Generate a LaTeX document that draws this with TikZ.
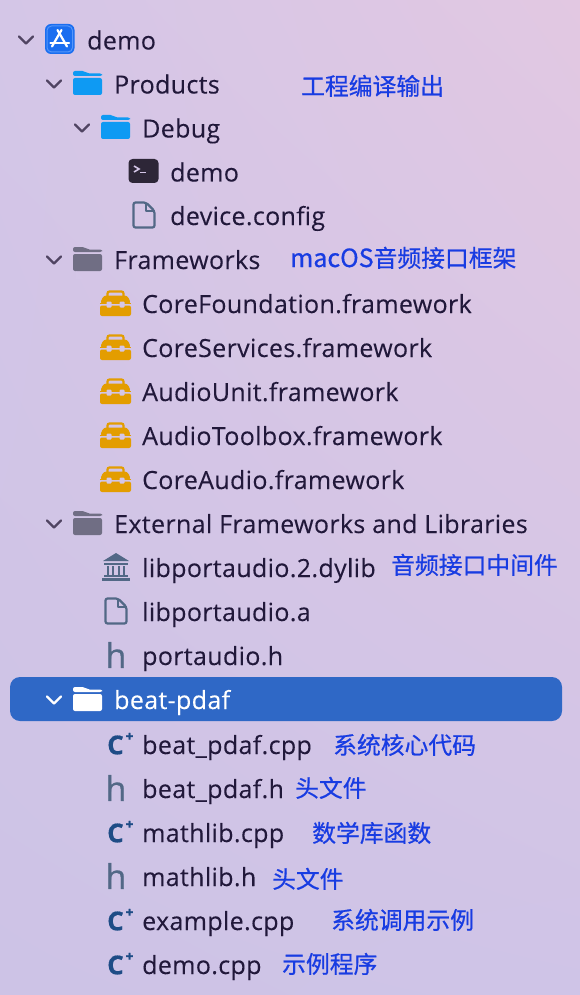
\documentclass[tikz,border=0pt]{standalone}
\usepackage{fontspec}
\usetikzlibrary{shadings}
\setmainfont[LetterSpace=1.4,FakeBold=0.12]{Open Sans}
\newfontfamily\iconfont[FakeBold=0.6]{Open Sans}
\newfontfamily\cjk[FakeBold=0.6]{Noto Sans CJK SC}
\definecolor{bgA}{RGB}{212,198,231}
\definecolor{bgB}{RGB}{226,200,226}
\definecolor{bgC}{RGB}{205,195,230}
\definecolor{bgD}{RGB}{207,196,231}
\definecolor{inkc}{RGB}{33,24,58}
\definecolor{chev}{RGB}{80,68,98}
\definecolor{note}{RGB}{24,60,226}
\definecolor{sel}{RGB}{47,104,198}
\definecolor{bluef}{RGB}{14,154,243}
\definecolor{greyf}{RGB}{112,110,132}
\definecolor{orng}{RGB}{227,157,0}
\definecolor{slate}{RGB}{82,104,134}
\definecolor{cblue}{RGB}{30,76,134}
\definecolor{appblue}{RGB}{26,110,240}
\definecolor{appedge}{RGB}{85,150,250}
\definecolor{termc}{RGB}{45,38,55}
\tikzset{
  x=1pt,y=-1pt,
  lbl/.style={anchor=base west,inner sep=0pt,text=inkc,font=\fontsize{25}{28}\selectfont},
  cn/.style={anchor=base west,inner sep=0pt,text=note,font=\cjk\fontsize{23.8}{28}\selectfont},
  pics/chevron/.style={code={\draw[#1,line width=2.2pt,line cap=round,line join=round] (-7,-3.5) -- (0,3.5) -- (7,-3.5);}},
  pics/folder/.style={code={
    \fill[#1,rounded corners=2pt] (-14.5,-6) -- (14.5,-6) -- (14.5,11) -- (-14.5,11) -- cycle;
    \fill[#1,rounded corners=2pt] (-14.5,-8) -- (-14.5,-13) -- (-3,-13) -- (0,-10.5) -- (14.5,-10.5) -- (14.5,-8) -- cycle;
  }},
  pics/doc/.style={code={
    \draw[slate,line width=2.2pt,line join=round,rounded corners=2pt] (-10.5,-12.5) -- (2,-12.5) -- (10.5,-4) -- (10.5,12.5) -- (-10.5,12.5) -- cycle;
    \draw[slate,line width=2.2pt,line join=round] (2,-12.5) -- (2,-4) -- (10.5,-4);
  }},
  pics/toolbox/.style={code={
    \draw[orng,line width=2.2pt,rounded corners=2pt] (-8,-8) -- (-8,-12.5) -- (8,-12.5) -- (8,-8);
    \fill[orng,rounded corners=3pt] (-15.5,-0.5) -- (-12,-8.5) -- (12,-8.5) -- (15.5,-0.5) -- cycle;
    \fill[orng] (-15.5,-1.5) rectangle (15.5,0);
    \fill[orng,rounded corners=2pt] (-15.5,1.5) -- (15.5,1.5) -- (15.5,12) -- (-15.5,12) -- cycle;
    \fill[bgA,rounded corners=1pt] (-9,-2.5) rectangle (-4,3.5);
    \fill[bgA,rounded corners=1pt] (4,-2.5) rectangle (9,3.5);
  }},
  pics/hglyph/.style={code={\node[inner sep=0pt,text=slate,font=\iconfont\fontsize{34}{36}\selectfont] at (0,-1) {h};}},
  pics/cplus/.style={code={
    \node[inner sep=0pt,text=cblue,font=\iconfont\bfseries\fontsize{26}{28}\selectfont] at (-4.5,0) {C};
    \node[inner sep=0pt,text=cblue,font=\iconfont\bfseries\fontsize{14}{14}\selectfont] at (9.5,-8) {+};
  }},
}
\begin{document}
\begin{tikzpicture}
\useasboundingbox (0,0) rectangle (580,995);
\shade[upper left=bgA,upper right=bgB,lower left=bgC,lower right=bgD] (0,0) rectangle (580,995);
\fill[sel,rounded corners=10pt] (10,677) rectangle (562,721);

% chevrons
\pic at (26,40) {chevron=chev};
\pic at (54,84) {chevron=chev};
\pic at (82,128) {chevron=chev};
\pic at (54,260) {chevron=chev};
\pic at (54,524) {chevron=chev};
\pic at (54,700) {chevron=white};

% app icon
\fill[appblue,rounded corners=6pt] (45,24) rectangle (74.5,54);
\draw[appedge,line width=1pt,rounded corners=4.5pt] (47,26) rectangle (72.5,52);
\begin{scope}[white,line width=2.2pt,line cap=round]
\draw (57.5,30) -- (67,46.5);
\draw (61.5,30) -- (52,46.5);
\draw (50.5,43) -- (69,43);
\end{scope}

% folders
\pic at (87.5,84) {folder=bluef};
\pic at (115.5,128) {folder=bluef};
\pic at (87.5,260) {folder=greyf};
\fill[bgA] (76,279) -- (76,271) -- (84,279) -- cycle;
\pic at (87.5,524) {folder=greyf};
\pic at (87.5,700) {folder=white};

% terminal
\fill[termc,rounded corners=4pt] (128.5,159) rectangle (158.5,183);
\draw[bgA,line width=1.6pt] (134,166) -- (139,169) -- (134,172);
\draw[bgA,line width=1.6pt] (140,172.5) -- (146,172.5);

% documents
\pic at (144,215) {doc};
\pic at (116,611) {doc};

% toolboxes
\foreach \yy in {304,348,392,436,480} {\pic at (115.5,\yy) {toolbox};}

% library
\begin{scope}[slate]
\fill (116,553) -- (129,561) -- (103,561) -- cycle;
\fill (104,563) rectangle (128,565);
\foreach \xx in {108,113,119,124} {\fill (\xx-1.2,566) rectangle (\xx+1.2,574.5);}
\fill (104,575) rectangle (128,577);
\fill (102,578) rectangle (130,580.5);
\end{scope}

% h and C+ glyphs
\pic at (116,656) {hglyph};
\pic at (116,789) {hglyph};
\pic at (116,877) {hglyph};
\pic at (120,745) {cplus};
\pic at (120,833) {cplus};
\pic at (120,921) {cplus};
\pic at (120,965) {cplus};

% labels
\node[lbl] (n1) at (87,49.5) {demo};
\node[lbl] (n2) at (114,93.5) {Products};
\node[lbl] (n3) at (142,137.5) {Debug};
\node[lbl] (n4) at (170,181.5) {demo};
\node[lbl] (n5) at (170,225) {device.config};
\node[lbl] (n6) at (114,269) {Frameworks};
\node[lbl] (n7) at (142,313) {CoreFoundation.framework};
\node[lbl] (n8) at (142,357) {CoreServices.framework};
\node[lbl] (n9) at (142,401) {AudioUnit.framework};
\node[lbl] (n10) at (142,445) {AudioToolbox.framework};
\node[lbl] (n11) at (142,489) {CoreAudio.framework};
\node[lbl] (n12) at (114,533) {External Frameworks and Libraries};
\node[lbl] (n13) at (142,577) {libportaudio.2.dylib};
\node[lbl] (n14) at (142,621) {libportaudio.a};
\node[lbl] (n15) at (142,665) {portaudio.h};
\node[lbl,text=white] (n16) at (114,709) {beat-pdaf};
\node[lbl] (n17) at (142,754) {beat\_pdaf.cpp};
\node[lbl] (n18) at (142,798) {beat\_pdaf.h};
\node[lbl] (n19) at (142,842) {mathlib.cpp};
\node[lbl] (n20) at (142,886) {mathlib.h};
\node[lbl] (n21) at (142,930) {example.cpp};
\node[lbl] (n22) at (142,974) {demo.cpp};

% notes
\node[cn] (c1) at (301,95) {工程编译输出};
\node[cn] (c2) at (290,267) {{\fontsize{25}{28}\selectfont macOS}音频接口框架};
\node[cn] (c3) at (391,574) {音频接口中间件};
\node[cn] (c4) at (333,754) {系统核心代码};
\node[cn] (c5) at (295,797) {头文件};
\node[cn] (c6) at (312,842) {数学库函数};
\node[cn] (c7) at (272,888) {头文件};
\node[cn] (c8) at (331,929) {系统调用示例};
\node[cn] (c9) at (282,973) {示例程序};
\end{tikzpicture}
\end{document}
